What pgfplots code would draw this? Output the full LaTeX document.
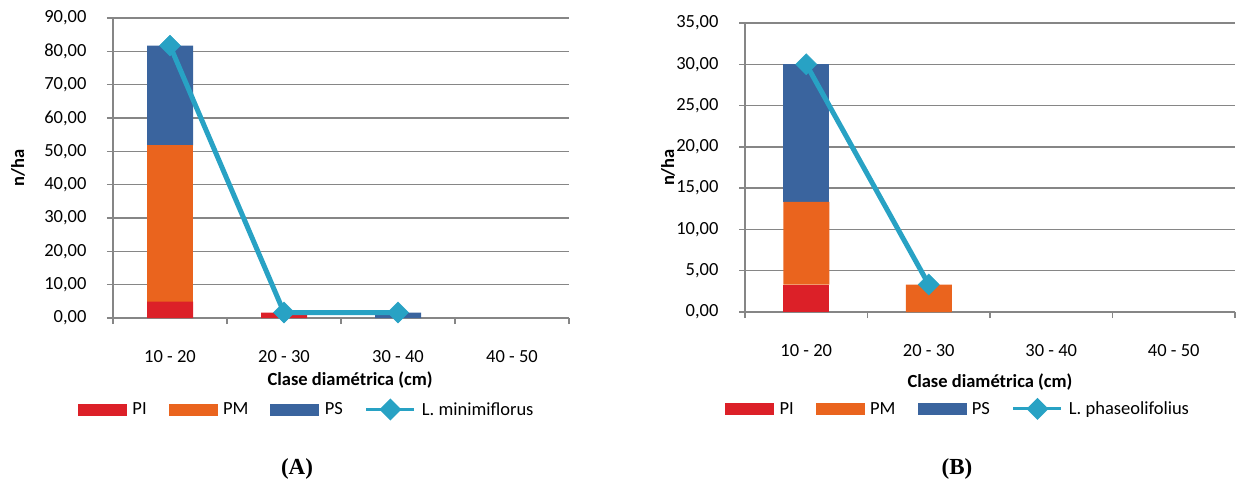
\documentclass[border=0pt]{standalone}
\usepackage{pgfplots}
\usepackage{pgfplotstable}
\pgfplotsset{compat=1.18}
\usepackage{fontspec}
\setmainfont{Carlito}
\newfontfamily\timesfont{Liberation Serif}

\definecolor{cPI}{RGB}{220,32,40}
\definecolor{cPM}{RGB}{234,100,30}
\definecolor{cPS}{RGB}{58,100,158}
\definecolor{cL}{RGB}{40,162,196}
\definecolor{cgrid}{RGB}{134,134,134}

\pgfplotstableread{
x PI PM PS L
0 4.92 46.9 29.9 81.7
1 1.64 0 0 1.64
2 0 0 1.64 1.64
3 0 0 0 nan
}\dataA

\pgfplotstableread{
x PI PM PS L
0 3.33 10 16.67 30
1 0 3.33 0 3.33
2 0 0 0 nan
3 0 0 0 nan
}\dataB

\pgfplotsset{
  base/.style={scale only axis, anchor=south west, xmin=-0.5, xmax=3.5, ymin=0, clip=false},
  barax/.style={base, ybar stacked, bar width=46pt,
    axis x line*=bottom, axis y line*=left,
    axis line style={cgrid, line width=1.3pt},
    ymajorgrids, grid style={cgrid, line width=1.3pt},
    xtick={-0.5,0.5,1.5,2.5,3.5},
    xticklabels={10 - 20,20 - 30,30 - 40,40 - 50},
    x tick label as interval,
    major tick length=6pt, tick align=outside,
    tick style={cgrid, line width=1.3pt},
    yticklabel style={/pgf/number format/fixed, /pgf/number format/fixed zerofill, /pgf/number format/precision=2, /pgf/number format/use comma, /pgf/number format/assume math mode=true, xshift=-17pt},
    tick label style={font=\fontsize{18.5}{22}\selectfont, text=black},
    xticklabel style={yshift=-23pt},
  },
  lineax/.style={base, hide axis,
    legend columns=4,
    legend style={draw=none, fill=none, anchor=west, inner sep=0pt,
      font=\fontsize{18.5}{22}\selectfont,
      nodes={inner sep=1pt},
      /tikz/every odd column/.append style={column sep=5pt},
      /tikz/every even column/.append style={column sep=21pt}},
  },
  lplot/.style={cL, line width=5pt, mark=square*, mark size=7.4pt,
    mark options={rotate=45, fill=cL, draw=cL, line width=0.5pt},
    legend image code/.code={\draw[cL, line width=3pt] (0pt,0pt) -- (48pt,0pt);
      \fill[cL] (24pt,7.5pt) -- (31.5pt,0pt) -- (24pt,-7.5pt) -- (16.5pt,0pt) -- cycle;}},
}

\begin{document}
\begin{tikzpicture}
\useasboundingbox (0,0) rectangle (1243pt,-483pt);
% ---------- A ----------
\begin{axis}[barax, at={(113pt,-318pt)}, width=456pt, height=300pt,
  ymax=90, ytick distance=10,
  ylabel={n/ha}, xlabel={Clase diamétrica (cm)},
  ylabel style={at={(axis description cs:-0.208,0.5)}, rotate=0, anchor=center, font=\fontsize{18.5}{22}\selectfont\bfseries},
  xlabel style={at={(axis description cs:0.52,-0.207)}, anchor=center, font=\fontsize{18.5}{22}\selectfont\bfseries}]
\addplot[fill=cPI, draw=none] table[x=x,y=PI]{\dataA};
\addplot[fill=cPM, draw=none] table[x=x,y=PM]{\dataA};
\addplot[fill=cPS, draw=none] table[x=x,y=PS]{\dataA};
\end{axis}
\begin{axis}[lineax, at={(113pt,-318pt)}, width=456pt, height=300pt, ymax=90,
  legend style={at={(axis description cs:-0.077,-0.305)}}]
\addlegendimage{legend image code/.code={\fill[cPI] (0pt,-5.5pt) rectangle (48pt,5.5pt);}}
\addlegendentry{PI}
\addlegendimage{legend image code/.code={\fill[cPM] (0pt,-5.5pt) rectangle (48pt,5.5pt);}}
\addlegendentry{PM}
\addlegendimage{legend image code/.code={\fill[cPS] (0pt,-5.5pt) rectangle (48pt,5.5pt);}}
\addlegendentry{PS}
\addplot[lplot] table[x=x,y=L]{\dataA};
\addlegendentry{L. minimiflorus}
\end{axis}
% ---------- B ----------
\begin{axis}[barax, at={(745pt,-312pt)}, width=490pt, height=289pt,
  ymax=35, ytick distance=5,
  ylabel={n/ha}, xlabel={Clase diamétrica (cm)},
  ylabel style={at={(axis description cs:-0.157,0.5)}, rotate=0, anchor=center, font=\fontsize{18.5}{22}\selectfont\bfseries},
  xlabel style={at={(axis description cs:0.5,-0.242)}, anchor=center, font=\fontsize{18.5}{22}\selectfont\bfseries}]
\addplot[fill=cPI, draw=none] table[x=x,y=PI]{\dataB};
\addplot[fill=cPM, draw=none] table[x=x,y=PM]{\dataB};
\addplot[fill=cPS, draw=none] table[x=x,y=PS]{\dataB};
\end{axis}
\begin{axis}[lineax, at={(745pt,-312pt)}, width=490pt, height=289pt, ymax=35,
  legend style={at={(axis description cs:-0.041,-0.335)}}]
\addlegendimage{legend image code/.code={\fill[cPI] (0pt,-5.5pt) rectangle (48pt,5.5pt);}}
\addlegendentry{PI}
\addlegendimage{legend image code/.code={\fill[cPM] (0pt,-5.5pt) rectangle (48pt,5.5pt);}}
\addlegendentry{PM}
\addlegendimage{legend image code/.code={\fill[cPS] (0pt,-5.5pt) rectangle (48pt,5.5pt);}}
\addlegendentry{PS}
\addplot[lplot] table[x=x,y=L]{\dataB};
\addlegendentry{L. phaseolifolius}
\end{axis}
\node[font=\timesfont\bfseries\fontsize{23}{26}\selectfont] at (297pt,-469pt) {(A)};
\node[font=\timesfont\bfseries\fontsize{23}{26}\selectfont] at (957pt,-469pt) {(B)};
\end{tikzpicture}
\end{document}
